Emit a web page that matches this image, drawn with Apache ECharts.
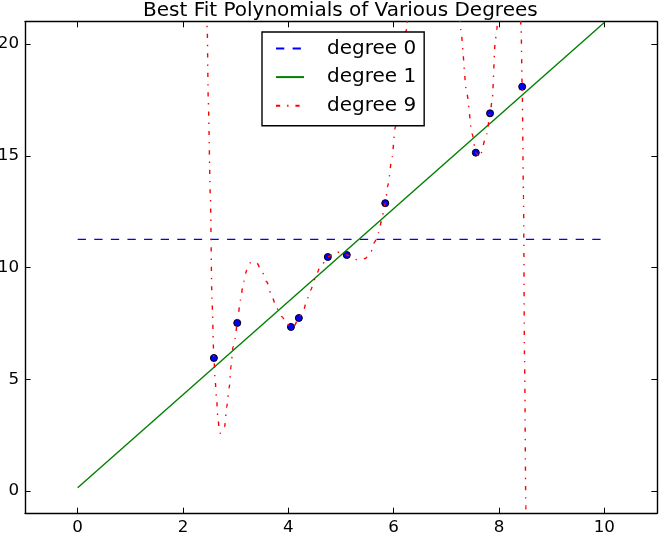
<!DOCTYPE html>
<html>
<head>
<meta charset="utf-8">
<script src="https://cdn.jsdelivr.net/npm/echarts@6/dist/echarts.min.js"></script>
<style>html,body{margin:0;padding:0;background:#fff}#c{width:659px;height:533px}</style>
</head>
<body>
<div id="c"></div>
<script>
const titleText = 'Best Fit Polynomials of Various Degrees';
const seriesNames = ['degree 0', 'degree 1', 'degree 9'];
const xTicks = [0, 2, 4, 6, 8, 10];
const yTicks = [0, 5, 10, 15, 20];

const pointX = [2.587, 3.03, 4.05, 4.20, 4.75, 5.11, 5.84, 7.56, 7.83, 8.44];
const pointY = [5.95, 7.52, 7.34, 7.74, 10.47, 10.56, 12.88, 15.14, 16.90, 18.09];

const deg0X = [0, 10];
const deg0Y = [11.26, 11.26];

const deg1X = [0, 10];
const deg1Y = [0.14, 20.96];

const deg9X = [2.40, 2.46, 2.48, 2.52, 2.55, 2.587, 2.61, 2.64, 2.66, 2.69, 2.71, 2.79, 2.83, 2.88, 2.91, 2.95, 2.99, 3.03,
  3.09, 3.15, 3.21, 3.28, 3.40, 3.50, 3.59, 3.69, 3.78, 3.88, 3.97, 4.05, 4.10, 4.20, 4.29, 4.35, 4.42, 4.51, 4.59, 4.75,
  4.92, 5.11, 5.24, 5.30, 5.46, 5.57, 5.64, 5.71, 5.80, 5.84, 5.89, 5.97, 6.03, 6.25, 6.30, 6.33, 7.20, 7.24, 7.27, 7.39,
  7.49, 7.56, 7.63, 7.77, 7.83, 7.87, 7.93, 7.96, 8.00, 8.38, 8.42, 8.44, 8.465, 8.485, 8.51, 8.52];
const deg9Y = [30, 20.68, 17.45, 13.13, 8.53, 5.95, 4.96, 4.07, 3.32, 2.73, 2.58, 2.87, 3.77, 4.66, 5.56, 6.45, 6.83, 7.52,
  8.54, 9.36, 9.88, 10.21, 10.21, 9.81, 9.36, 8.69, 8.17, 7.80, 7.47, 7.34, 7.35, 7.74, 8.09, 8.54, 8.98, 9.50, 9.95, 10.47,
  10.70, 10.56, 10.47, 10.35, 10.40, 10.72, 11.14, 11.56, 12.41, 12.88, 13.67, 14.95, 16.28, 20.67, 23.5, 25, 25, 23.5, 20.67, 17.77,
  15.98, 15.14, 14.93, 15.98, 16.90, 17.47, 20.15, 20.67, 23, 23, 20.67, 18.09, 13.15, 5.86, -0.70, -3];

function pairs(xs, ys) { return xs.map((x, i) => [x, ys[i]]); }

const font = 'DejaVu Sans';
const black = '#000';

function axisCommon(ticks, showLabel) {
  return {
    type: 'value',
    splitLine: { show: false },
    axisLine: { show: true, onZero: false, lineStyle: { color: black, width: 1.4 } },
    axisTick: { show: true, inside: true, length: 5.6, customValues: ticks, lineStyle: { color: black, width: 1 } },
    axisLabel: { show: showLabel, customValues: ticks, color: black, fontSize: 16.7, fontFamily: font, margin: 6 }
  };
}

const chart = echarts.init(document.getElementById('c'), null, { renderer: 'canvas' });
chart.setOption({
  animation: false,
  backgroundColor: '#fff',
  title: {
    text: titleText,
    left: 143,
    top: 1,
    padding: 0,
    textStyle: { fontFamily: font, fontSize: 20, fontWeight: 'normal', color: black }
  },
  legend: {
    data: seriesNames,
    orient: 'vertical',
    left: 262,
    top: 32,
    padding: [6.5, 8, 10, 13],
    itemWidth: 28,
    itemHeight: 14,
    itemGap: 8.6,
    backgroundColor: '#fff',
    borderColor: black,
    borderWidth: 1.4,
    borderRadius: 0,
    itemStyle: { color: 'rgba(0,0,0,0)', borderColor: 'rgba(0,0,0,0)', borderWidth: 0, opacity: 0 },
    textStyle: { fontFamily: font, fontSize: 20, lineHeight: 14, color: black, padding: [0, 0, 0, 18] }
  },
  grid: { left: 25, right: 2, top: 21.7, bottom: 19.7, containLabel: false, outerBoundsMode: 'none' },
  xAxis: [
    Object.assign(axisCommon(xTicks, true), { min: -1, max: 11, position: 'bottom' }),
    Object.assign(axisCommon(xTicks, false), { min: -1, max: 11, position: 'top' })
  ],
  yAxis: [
    Object.assign(axisCommon(yTicks, true), { min: -1, max: 21, position: 'left' }),
    Object.assign(axisCommon(yTicks, false), { min: -1, max: 21, position: 'right' })
  ],
  series: [
    {
      name: 'points',
      type: 'scatter',
      data: pairs(pointX, pointY),
      symbolSize: 7,
      itemStyle: { color: '#0000ff', borderColor: black, borderWidth: 1, opacity: 1 },
      z: 1
    },
    {
      name: seriesNames[0],
      type: 'line',
      data: pairs(deg0X, deg0Y),
      symbol: 'none',
      color: '#0000ff',
      lineStyle: { color: '#0000ff', width: 1.4, type: [8.3, 8.3] },
      z: 2
    },
    {
      name: seriesNames[1],
      type: 'line',
      data: pairs(deg1X, deg1Y),
      symbol: 'none',
      color: '#008000',
      lineStyle: { color: '#008000', width: 1.4, type: 'solid' },
      z: 2
    },
    {
      name: seriesNames[2],
      type: 'line',
      data: pairs(deg9X, deg9Y),
      symbol: 'none',
      smooth: 0.25,
      smoothMonotone: 'x',
      clip: true,
      color: '#ff0000',
      lineStyle: { color: '#ff0000', width: 1.4, type: [4.2, 6.9, 1.4, 6.9] },
      z: 3
    }
  ]
});
</script>
</body>
</html>
